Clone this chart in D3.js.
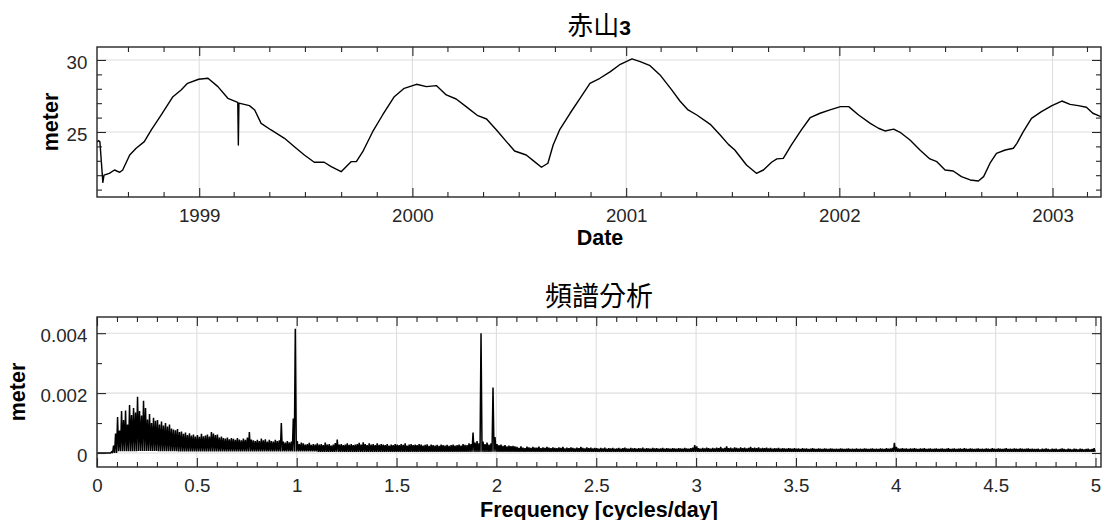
<!DOCTYPE html>
<html>
<head>
<meta charset="utf-8">
<script src="https://cdn.jsdelivr.net/npm/d3@7"></script>
<style>
  body { margin: 0; background: #ffffff; }
  svg { display: block; }
</style>
</head>
<body>
<svg id="chart" width="1102" height="520"></svg>
<script>
// ---------------- DATA ----------------
// Top panel: water level (meter) of 赤山3 over time
const levelDates = [
  "1998-07-10","1998-07-13","1998-07-15","1998-07-20","1998-07-22","1998-07-31","1998-08-09","1998-08-18","1998-08-23",
  "1998-09-04","1998-09-15","1998-09-29","1998-10-11","1998-10-28","1998-11-17","1998-12-01","1998-12-12","1998-12-31",
  "1999-01-16","1999-02-02","1999-02-19","1999-03-08","1999-03-09","1999-03-10","1999-03-28","1999-04-06","1999-04-17",
  "1999-05-04","1999-05-27","1999-06-13","1999-06-30","1999-07-17","1999-08-03","1999-08-15","1999-09-01","1999-09-18",
  "1999-09-27","1999-10-08","1999-10-25","1999-11-11","1999-12-01","1999-12-18",
  "2000-01-08","2000-01-25","2000-02-11","2000-02-28","2000-03-16","2000-04-02","2000-04-22","2000-05-07","2000-05-24",
  "2000-06-10","2000-06-24","2000-07-14","2000-07-28","2000-08-09","2000-08-20","2000-08-29","2000-09-09","2000-09-27",
  "2000-10-14","2000-10-31","2000-11-17","2000-12-05","2000-12-22",
  "2001-01-11","2001-01-25","2001-02-11","2001-02-28","2001-03-20","2001-04-03","2001-04-17","2001-05-02","2001-05-25",
  "2001-06-11","2001-06-25","2001-07-06","2001-07-26","2001-08-12","2001-08-24","2001-09-07","2001-09-16","2001-09-27",
  "2001-10-11","2001-10-28","2001-11-12","2001-11-29","2001-12-16",
  "2002-01-03","2002-01-17","2002-02-03","2002-02-23","2002-03-09","2002-03-20","2002-04-04","2002-04-15","2002-05-02",
  "2002-05-19","2002-06-05","2002-06-17","2002-07-01","2002-07-15","2002-07-29","2002-08-13","2002-08-27","2002-09-05",
  "2002-09-16","2002-09-27","2002-10-12","2002-10-26","2002-11-01","2002-11-12","2002-11-26","2002-12-13","2002-12-31",
  "2003-01-17","2003-01-31","2003-02-14","2003-02-28","2003-03-11","2003-03-25"
];
const levelValues = [
  24.3,24.4,24.3,21.5,22.0,22.13,22.36,22.2,22.36,
  23.4,23.87,24.33,25.14,26.18,27.45,27.92,28.38,28.66,
  28.73,28.15,27.34,27.06,24.1,27.0,26.83,26.53,25.6,
  25.14,24.56,23.98,23.4,22.9,22.9,22.59,22.24,22.94,
  22.94,23.63,25.02,26.18,27.45,28.03,
  28.31,28.15,28.22,27.57,27.29,26.76,26.13,25.9,25.14,
  24.33,23.68,23.4,22.94,22.55,22.83,24.1,25.14,26.3,
  27.34,28.38,28.73,29.19,29.7,
  30.07,29.88,29.6,28.96,27.92,27.15,26.53,26.18,25.53,
  24.79,24.14,23.75,22.71,22.13,22.36,22.9,23.13,23.17,
  24.1,25.14,25.99,26.3,26.53,
  26.76,26.76,26.18,25.6,25.26,25.07,25.2,24.98,24.44,
  23.75,23.13,22.94,22.36,22.29,21.9,21.67,21.6,21.9,
  22.83,23.52,23.75,23.87,24.21,25.02,25.95,26.41,26.83,
  27.15,26.92,26.83,26.72,26.3,26.06
];
const levelDomain = ["1998-07-10", "2003-03-25"];
const levelMajorTicks = ["1999-01-01","2000-01-01","2001-01-01","2002-01-01","2003-01-01"];
const levelYMajor = [25, 30];
const levelYMinor = [21, 22, 23, 24, 26, 27, 28, 29];
const levelYDomain = [20.486, 30.9];

// Bottom panel: amplitude spectrum, one bin per 0.01 cycles/day (values in 1e-5 meter)
const SPEC_UNIT = 1e-5;
const specBinWidth = 0.01;
const specPeak = [
  0,0,0,0,0,0,0,4,25,65,
  120,75,140,110,142,95,160,127,150,135,
  188,140,125,174,150,112,130,100,118,108,
  110,95,105,92,100,88,95,82,78,76,
  80,70,72,64,68,60,66,58,62,55,
  60,54,64,56,58,62,55,70,65,60,
  62,52,55,50,48,52,46,50,47,44,
  50,45,42,48,44,52,70,45,42,40,
  44,40,48,42,46,38,44,40,38,44,
  40,42,100,38,35,40,36,38,115,415,
  40,30,35,32,28,30,34,27,30,28,
  32,28,30,26,35,28,30,25,28,33,
  45,28,30,26,28,32,27,30,26,28,
  30,34,28,36,30,26,32,28,30,26,
  32,27,30,28,26,30,25,28,26,30,
  28,26,30,27,32,25,28,30,26,28,
  26,30,28,25,27,29,24,28,26,25,
  27,24,28,26,25,27,24,26,28,25,
  26,28,25,30,27,26,32,30,68,35,
  40,32,400,38,30,35,28,32,219,53,
  30,26,28,24,26,22,25,23,24,22,
  20,17,22,18,16,21,19,17,20,18,
  18,21,16,19,17,20,18,16,19,17,
  16,19,17,20,15,18,16,19,17,15,
  18,16,20,17,15,19,16,18,15,17,
  16,14,17,15,18,14,16,15,17,14,
  15,17,14,16,18,15,14,17,15,16,
  14,16,15,18,14,16,15,14,17,15,
  16,14,15,17,14,16,15,14,16,15,
  14,16,15,14,17,15,14,16,18,26,
  22,16,14,17,15,18,16,14,17,15,
  18,16,20,15,17,22,16,18,15,19,
  17,15,19,16,18,15,17,20,16,18,
  16,19,15,17,16,18,15,17,14,16,
  15,17,14,16,15,14,16,15,14,16,
  14,15,13,16,14,15,13,14,16,14,
  13,15,14,13,15,14,13,15,14,13,
  14,13,15,14,13,14,15,13,14,13,
  15,13,14,13,15,14,13,14,15,13,
  14,13,15,14,13,16,14,15,17,34,
  20,15,14,16,14,15,13,15,14,16,
  14,13,15,14,16,13,14,15,13,14,
  15,13,14,15,13,14,16,13,14,15,
  13,14,15,13,16,14,13,15,14,13,
  14,15,13,14,13,15,14,13,16,14,
  13,15,14,13,14,16,13,14,13,15,
  14,13,15,14,13,14,15,13,14,13,
  13,14,12,14,13,15,13,12,14,13,
  14,12,13,15,13,12,14,13,12,14,
  13,12,14,13,12,13,14,12,13,16
];
// trough level per 0.1 cycles/day band (1e-5 meter)
const specFloor = [
  0,6,7,6,5,5,5,5,5,5,
  5,4,4,4,4,4,4,4,4,4,
  4,4,4,4,4,4,4,4,4,4,
  4,4,4,4,4,4,4,4,4,4,
  4,4,4,4,4,4,4,4,4,4
];
const specXDomain = [0, 5.0275];
const specYDomain = [-0.000467, 0.00454];
const specXMajor = [0,0.5,1,1.5,2,2.5,3,3.5,4,4.5,5];
const specXLabels = ["0","0.5","1","1.5","2","2.5","3","3.5","4","4.5","5"];
const specXMinor = [0.1,0.2,0.3,0.4,0.6,0.7,0.8,0.9,1.1,1.2,1.3,1.4,1.6,1.7,1.8,1.9,2.1,2.2,2.3,2.4,2.6,2.7,2.8,2.9,
                    3.1,3.2,3.3,3.4,3.6,3.7,3.8,3.9,4.1,4.2,4.3,4.4,4.6,4.7,4.8,4.9];
const specYMajor = [0, 0.002, 0.004];
const specYLabels = ["0", "0.002", "0.004"];
const specYMinor = [0.001, 0.003];

// ---------------- DRAWING ----------------
const FONT = '"Liberation Sans", Arial, Helvetica, sans-serif';
const CJK = '"Noto Sans CJK TC", "Noto Sans CJK SC", sans-serif';
const AX = "#262626";
const GRID = "#dedede";
const svg = d3.select("#chart");
const L = 97, R = 1101;

function styleAxis(sel, size) {
  sel.select(".domain").remove();
  sel.attr("color", AX).attr("font-family", FONT).attr("font-size", size);
  sel.selectAll(".tick line").attr("stroke-width", 1.1);
  sel.selectAll("text").attr("fill", AX);
}

function drawFrame(g, x, y, top, bottom, o) {
  g.append("g").selectAll("line").data(o.xMajor).join("line")
    .attr("x1", d => x(d)).attr("x2", d => x(d)).attr("y1", top).attr("y2", bottom)
    .attr("stroke", GRID).attr("stroke-width", 1.1);
  g.append("g").selectAll("line").data(o.yMajor).join("line")
    .attr("x1", L).attr("x2", R).attr("y1", d => y(d)).attr("y2", d => y(d))
    .attr("stroke", GRID).attr("stroke-width", 1.1);
}

function drawAxes(g, x, y, top, bottom, o) {
  const maj = -9, mnr = -5;
  g.append("g").attr("transform", `translate(0,${bottom})`)
    .call(d3.axisBottom(x).tickValues(o.xMajor).tickSize(maj).tickPadding(11.5).tickFormat(o.xFmt))
    .call(s => styleAxis(s, "18.7px"));
  g.append("g").attr("transform", `translate(0,${bottom})`)
    .call(d3.axisBottom(x).tickValues(o.xMinor).tickSize(mnr).tickFormat(""))
    .call(s => styleAxis(s, "18.7px"));
  g.append("g").attr("transform", `translate(0,${top})`)
    .call(d3.axisTop(x).tickValues(o.xMajor).tickSize(maj).tickFormat(""))
    .call(s => styleAxis(s, "18.7px"));
  g.append("g").attr("transform", `translate(0,${top})`)
    .call(d3.axisTop(x).tickValues(o.xMinor).tickSize(mnr).tickFormat(""))
    .call(s => styleAxis(s, "18.7px"));
  g.append("g").attr("transform", `translate(${L},0)`)
    .call(d3.axisLeft(y).tickValues(o.yMajor).tickSize(maj).tickPadding(9.7).tickFormat(o.yFmt))
    .call(s => styleAxis(s, "18.7px"))
    .call(s => s.selectAll("text").attr("dy", "0.44em"));
  g.append("g").attr("transform", `translate(${L},0)`)
    .call(d3.axisLeft(y).tickValues(o.yMinor).tickSize(mnr).tickFormat(""))
    .call(s => styleAxis(s, "18.7px"));
  g.append("g").attr("transform", `translate(${R},0)`)
    .call(d3.axisRight(y).tickValues(o.yMajor).tickSize(maj).tickFormat(""))
    .call(s => styleAxis(s, "18.7px"));
  g.append("g").attr("transform", `translate(${R},0)`)
    .call(d3.axisRight(y).tickValues(o.yMinor).tickSize(mnr).tickFormat(""))
    .call(s => styleAxis(s, "18.7px"));
  g.append("rect").attr("x", L).attr("y", top).attr("width", R - L).attr("height", bottom - top)
    .attr("fill", "none").attr("stroke", AX).attr("stroke-width", 1.4);
}

// ---- Top panel ----
{
  const top = 47, bottom = 197;
  const parse = d3.utcParse("%Y-%m-%d");
  const x = d3.scaleUtc().domain(levelDomain.map(parse)).range([L, R]);
  const y = d3.scaleLinear().domain(levelYDomain).range([bottom, top]);
  const g = svg.append("g");
  const xMajor = levelMajorTicks.map(parse);
  const xMinor = d3.utcMonth.every(2).range(x.domain()[0], x.domain()[1]).filter(d => d.getUTCMonth() !== 0);
  const o = { xMajor, xMinor, yMajor: levelYMajor, yMinor: levelYMinor,
              xFmt: d3.utcFormat("%Y"), yFmt: d3.format("d") };
  drawFrame(g, x, y, top, bottom, o);
  g.append("defs").append("clipPath").attr("id", "clipTop")
    .append("rect").attr("x", L).attr("y", top).attr("width", R - L).attr("height", bottom - top);
  const pts = levelDates.map((d, i) => [parse(d), levelValues[i]]);
  g.append("path").datum(pts)
    .attr("clip-path", "url(#clipTop)")
    .attr("fill", "none").attr("stroke", "#000").attr("stroke-width", 1.4)
    .attr("stroke-linejoin", "round")
    .attr("d", d3.line().x(d => x(d[0])).y(d => y(d[1])));
  drawAxes(g, x, y, top, bottom, o);

  svg.append("text").attr("x", 599).attr("y", 34.5).attr("text-anchor", "middle").attr("fill", "#000")
    .call(t => {
      t.append("tspan").attr("font-family", CJK).attr("font-size", "26px").text("赤山");
      t.append("tspan").attr("font-family", FONT).attr("font-weight", "bold").attr("font-size", "21px").text("3");
    });
  svg.append("text").attr("x", 600).attr("y", 245).attr("text-anchor", "middle")
    .attr("font-family", FONT).attr("font-weight", "bold").attr("font-size", "21.5px").attr("fill", "#000")
    .text("Date");
  svg.append("text").attr("transform", `translate(58.3,${(top + bottom) / 2}) rotate(-90)`)
    .attr("text-anchor", "middle")
    .attr("font-family", FONT).attr("font-weight", "bold").attr("font-size", "21.5px").attr("fill", "#000")
    .text("meter");
}

// ---- Bottom panel ----
{
  const top = 317, bottom = 467;
  const x = d3.scaleLinear().domain(specXDomain).range([L, R]);
  const y = d3.scaleLinear().domain(specYDomain).range([bottom, top]);
  const g = svg.append("g");
  const o = { xMajor: specXMajor, xMinor: specXMinor, yMajor: specYMajor, yMinor: specYMinor,
              xFmt: (d, i) => specXLabels[i], yFmt: (d, i) => specYLabels[i] };
  drawFrame(g, x, y, top, bottom, o);
  const pts = [];
  specPeak.forEach((v, i) => {
    const f0 = i * specBinWidth;
    pts.push([f0 + 0.3 * specBinWidth, v * SPEC_UNIT]);
    pts.push([f0 + 0.8 * specBinWidth, specFloor[Math.floor(i / 10)] * SPEC_UNIT]);
  });
  g.append("path").datum(pts)
    .attr("fill", "none").attr("stroke", "#000").attr("stroke-width", 1.5)
    .attr("stroke-linejoin", "miter").attr("stroke-miterlimit", 2)
    .attr("d", d3.line().x(d => x(d[0])).y(d => y(d[1])));
  drawAxes(g, x, y, top, bottom, o);

  svg.append("text").attr("x", 599).attr("y", 306).attr("text-anchor", "middle").attr("fill", "#000")
    .attr("font-family", CJK).attr("font-size", "27px").text("頻譜分析");
  svg.append("text").attr("x", 599).attr("y", 516.5).attr("text-anchor", "middle")
    .attr("font-family", FONT).attr("font-weight", "bold").attr("font-size", "21.5px").attr("fill", "#000")
    .text("Frequency [cycles/day]");
  svg.append("text").attr("transform", `translate(25,${(top + bottom) / 2}) rotate(-90)`)
    .attr("text-anchor", "middle")
    .attr("font-family", FONT).attr("font-weight", "bold").attr("font-size", "21.5px").attr("fill", "#000")
    .text("meter");
}
</script>
</body>
</html>
